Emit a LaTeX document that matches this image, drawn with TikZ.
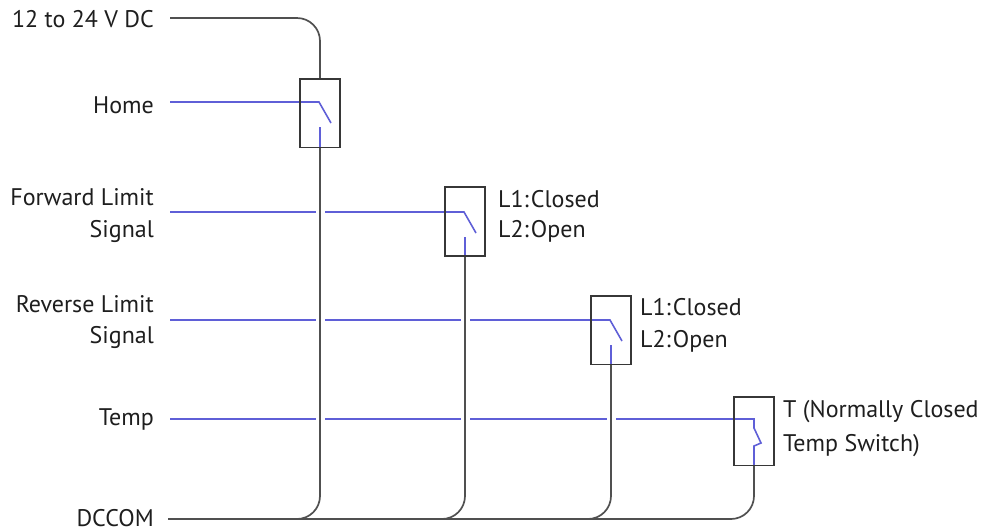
\documentclass[tikz,border=0pt]{standalone}
\usepackage{fontspec}
\setmainfont{PT Sans}
\definecolor{wiregray}{RGB}{80,80,80}
\definecolor{boxgray}{RGB}{55,55,55}
\definecolor{sigblue}{RGB}{95,95,215}
\definecolor{txt}{RGB}{30,30,30}
\begin{document}
\begin{tikzpicture}[x=1pt,y=-1pt,
  wire/.style={draw=wiregray,line width=1.7pt},
  sig/.style={draw=sigblue,line width=1.6pt},
  halo/.style={draw=white,line width=9pt},
  swbox/.style={draw=boxgray,line width=1.6pt,minimum width=38pt,minimum height=67pt,inner sep=0pt},
  lbl/.style={font=\fontsize{24}{28}\selectfont,text=txt,inner sep=0pt}]
\useasboundingbox[fill=white] (0,0) rectangle (985,531);

% left labels
\node[lbl,anchor=base east] (tv) at (154,27) {12 to 24 V DC};
\node[lbl,anchor=base east] (th) at (154,113) {Home};
\node[lbl,anchor=base east] (tf1) at (154,205) {Forward Limit};
\node[lbl,anchor=base east] (tf2) at (154,237) {Signal};
\node[lbl,anchor=base east] (tr1) at (154,312) {Reverse Limit};
\node[lbl,anchor=base east] (tr2) at (154,343) {Signal};
\node[lbl,anchor=base east] (tt) at (154,425) {Temp};
\node[lbl,anchor=base east] (td) at (154,526) {DCCOM};

% right labels
\node[lbl,anchor=base west] (a1) at (498,207) {L1:\hspace{2pt}Closed};
\node[lbl,anchor=base west] (a2) at (498,237) {L2:\hspace{2pt}Open};
\node[lbl,anchor=base west] (b1) at (640,315) {L1:\hspace{2pt}Closed};
\node[lbl,anchor=base west] (b2) at (640,347) {L2:\hspace{2pt}Open};
\node[lbl,anchor=base west] (c1) at (783,417) {T (Normally Closed};
\node[lbl,anchor=base west] (c2) at (783,451) {Temp Switch)};

% switch boxes (positions only)
\path node[swbox,draw=none] (s1) at (320,113) {}
      node[swbox,draw=none] (s2) at (465,221.5) {}
      node[swbox,draw=none] (s3) at (611,330) {}
      node[swbox,draw=none] (s4) at (754,431) {};

% line start coordinates
\coordinate (vin) at (170,18);
\coordinate (hin) at (170,102);
\coordinate (fin) at (170,212);
\coordinate (rin) at (170,320);
\coordinate (tin) at (170,419);
\coordinate (dc) at (168,519);

% contact points
\coordinate (k1) at (319,102);
\coordinate (k2) at (464,212);
\coordinate (k3) at (610,320);
\coordinate (k4) at (754,419);

% blue signal lines
\draw[sig] (hin) -- (k1) -- ++(12,21);
\draw[sig] (fin) -- (k2) -- ++(12,21);
\draw[sig] (rin) -- (k3) -- ++(12,21);
\draw[sig] (tin) -- (k4) -- ++(0,9) -- ++(7,15) -- ++(-7,3) -- (s4.south);
\draw[sig] (s1.south) -- ++(0,-20);
\draw[sig] (s2.south) -- ++(0,-19);
\draw[sig] (s3.south) -- ++(0,-19);

% gaps where blue lines cross the common wires
\draw[halo] ([yshift=-4pt]s1.south) -- (s1.south |- 0,500);
\draw[halo] ([yshift=-4pt]s2.south) -- (s2.south |- 0,500);
\draw[halo] ([yshift=-4pt]s3.south) -- (s3.south |- 0,500);

% gray wires
\draw[wire,rounded corners=23] (vin) -- (vin -| s1.north) -- (s1.north);
\draw[wire,rounded corners=23] (s1.south) -- (s1.south |- dc) -- ++(-30,0);
\draw[wire,rounded corners=23] (s2.south) -- (s2.south |- dc) -- ++(-30,0);
\draw[wire,rounded corners=23] (s3.south) -- (s3.south |- dc) -- ++(-30,0);
\draw[wire,rounded corners=23] (dc) -- (dc -| s4.south) -- (s4.south);

% boxes
\foreach \s in {s1,s2,s3,s4}
  \draw[draw=boxgray,line width=1.6pt] (\s.south west) rectangle (\s.north east);
\end{tikzpicture}
\end{document}
